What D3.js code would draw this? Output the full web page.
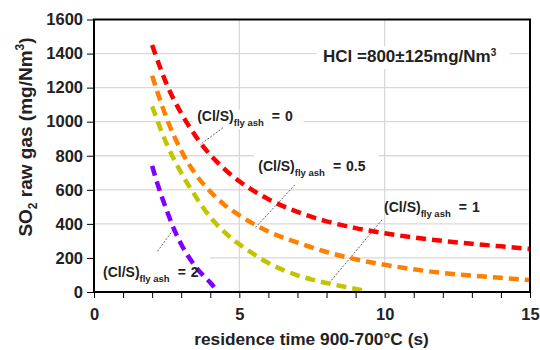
<!DOCTYPE html>
<html>
<head>
<meta charset="utf-8">
<script src="https://cdn.jsdelivr.net/npm/d3@7"></script>
<style>
  body { margin: 0; background: #fff; }
  svg { font-family: "Liberation Sans", Arial, sans-serif; font-weight: bold; }
</style>
</head>
<body>
<svg id="chart" width="540" height="350"></svg>
<script>
// residence time (s) vs SO2 raw gas (mg/Nm3), one series per (Cl/S) fly ash ratio
const red0 = [[2, 1450], [2.5, 1220], [3, 1050], [3.5, 915], [4, 805], [4.5, 720], [5, 650], [6, 545],
  [7, 470], [8, 415], [9, 375], [10, 345], [11, 320], [12, 300], [13, 283], [14, 268], [15, 253]];
const orange05 = [[2, 1270], [2.5, 1020], [3, 830], [3.5, 690], [4, 590], [4.5, 510], [5, 450], [6, 355],
  [7, 290], [8, 235], [9, 192], [10, 160], [11, 133], [12, 112], [13, 96], [14, 83], [15, 70]];
const yellow1 = [[2, 1090], [2.5, 870], [3, 700], [3.5, 560], [4, 440], [4.5, 350], [5, 280], [5.5, 222],
  [6, 170], [6.5, 130], [7, 98], [7.5, 73], [8, 53], [8.5, 35], [9, 18], [9.4, 4]];
const purple2 = [[2, 740], [2.25, 600], [2.5, 480], [2.75, 370], [3, 280], [3.25, 208], [3.5, 148],
  [3.75, 98], [4, 55], [4.25, 4]];

const seriesList = [
  { name: '0', values: red0, color: '#ff0000' },
  { name: '0.5', values: orange05, color: '#ff8000' },
  { name: '1', values: yellow1, color: '#c2c400' },
  { name: '2', values: purple2, color: '#7f00ff' }
];

const yTicks = [0, 200, 400, 600, 800, 1000, 1200, 1400, 1600];
const xTicks = [0, 5, 10, 15];

// annotation text anchors and leader lines, in data units
const labels = [
  { ratio: '0', at: [3.55, 1006], box: [[3.4, 1070], [7.2, 955]], lead: [[4.44, 965], [3.65, 865]] },
  { ratio: '0.5', at: [5.65, 710], box: [[5.5, 835], [9.8, 690]], lead: [[6.91, 629], [5.54, 376]] },
  { ratio: '1', at: [9.98, 468], box: null, lead: [[9.91, 424], [8.12, 59]] },
  { ratio: '2', at: [0.31, 88], box: [[0.05, 235], [3.98, 60]], lead: [[2.72, 365], [2.17, 235]] }
];

const svg = d3.select('#chart');
const plotLeft = 94, plotRight = 530, plotTop = 19.5, plotBottom = 292;

const x = d3.scaleLinear().domain([0, 15]).range([plotLeft, plotRight]);
const y = d3.scaleLinear().domain([0, 1600]).range([plotBottom, plotTop]);

// grid
const grid = svg.append('g').attr('stroke', '#d9d9d9').attr('stroke-width', 1.3);
grid.selectAll('.hg').data(yTicks.slice(1, -1)).enter().append('line')
  .attr('x1', plotLeft).attr('x2', plotRight)
  .attr('y1', d => y(d)).attr('y2', d => y(d));
grid.selectAll('.vg').data(xTicks.slice(1, -1)).enter().append('line')
  .attr('y1', plotTop).attr('y2', plotBottom)
  .attr('x1', d => x(d)).attr('x2', d => x(d));

// white boxes behind labels (they hide the grid there)
labels.filter(d => d.box).forEach(d => {
  svg.append('rect')
    .attr('x', x(d.box[0][0])).attr('y', y(d.box[0][1]))
    .attr('width', x(d.box[1][0]) - x(d.box[0][0]))
    .attr('height', y(d.box[1][1]) - y(d.box[0][1]))
    .attr('fill', '#fff');
});
svg.append('rect')
  .attr('x', x(7.66)).attr('y', y(1445))
  .attr('width', x(14.3) - x(7.66)).attr('height', y(1310) - y(1445))
  .attr('fill', '#fff');

// leader lines
svg.append('g').selectAll('line').data(labels).enter().append('line')
  .attr('x1', d => x(d.lead[0][0])).attr('y1', d => y(d.lead[0][1]))
  .attr('x2', d => x(d.lead[1][0])).attr('y2', d => y(d.lead[1][1]))
  .attr('stroke', '#666').attr('stroke-width', 1).attr('stroke-dasharray', '2,1.5');

// curves
const line = d3.line().x(d => x(d[0])).y(d => y(d[1])).curve(d3.curveMonotoneX);
svg.append('g').selectAll('path').data(seriesList).enter().append('path')
  .attr('d', d => line(d.values))
  .attr('fill', 'none')
  .attr('stroke', d => d.color)
  .attr('stroke-width', 4.5)
  .attr('stroke-dasharray', '10,6');

// frame
svg.append('rect')
  .attr('x', plotLeft).attr('y', plotTop)
  .attr('width', plotRight - plotLeft).attr('height', plotBottom - plotTop)
  .attr('fill', 'none').attr('stroke', '#000').attr('stroke-width', 2);

// axes
const yAxis = svg.append('g').attr('transform', 'translate(' + plotLeft + ',0)')
  .call(d3.axisLeft(y).tickValues(yTicks).tickSize(7).tickPadding(4).tickFormat(d3.format('d')));
const xAxis = svg.append('g').attr('transform', 'translate(0,' + plotBottom + ')')
  .call(d3.axisBottom(x).tickValues(d3.range(0, 16)).tickSize(6).tickPadding(10)
    .tickFormat(d => (d % 5 === 0 ? d : '')));
[yAxis, xAxis].forEach(a => {
  a.select('.domain').remove();
  a.selectAll('line').attr('stroke', '#000').attr('stroke-width', 1);
  a.selectAll('text').attr('font-size', 16.5).attr('font-weight', 'bold')
    .attr('font-family', '"Liberation Sans", Arial, sans-serif').attr('fill', '#222');
});

// axis titles
const yTitle = svg.append('text')
  .attr('transform', 'translate(32,137) rotate(-90)')
  .attr('text-anchor', 'middle').attr('font-size', 19).attr('fill', '#222');
yTitle.append('tspan').text('SO');
yTitle.append('tspan').attr('font-size', 12).attr('dy', 5).text('2');
yTitle.append('tspan').attr('dy', -5).text(' raw gas (mg/Nm');
yTitle.append('tspan').attr('font-size', 12).attr('dy', -8).text('3');
yTitle.append('tspan').attr('dy', 8).text(')');

svg.append('text')
  .attr('x', 311.5).attr('y', 345)
  .attr('text-anchor', 'middle').attr('font-size', 17.3).attr('fill', '#222')
  .text('residence time 900-700°C (s)');

// HCl note
const hcl = svg.append('text')
  .attr('x', x(7.88)).attr('y', y(1353))
  .attr('font-size', 17).attr('fill', '#222');
hcl.append('tspan').text('HCl =800±125mg/Nm');
hcl.append('tspan').attr('font-size', 10).attr('dy', -6).text('3');

// ratio labels
labels.forEach(d => {
  const t = svg.append('text')
    .attr('x', x(d.at[0])).attr('y', y(d.at[1]))
    .attr('font-size', 14).attr('fill', '#222');
  t.append('tspan').text('(Cl/S)');
  t.append('tspan').attr('font-size', 9.5).attr('dy', 5).text('fly ash');
  t.append('tspan').attr('dy', -5).attr('dx', 8).text('=');
  t.append('tspan').attr('dx', 5).text(d.ratio);
});
</script>
</body>
</html>
